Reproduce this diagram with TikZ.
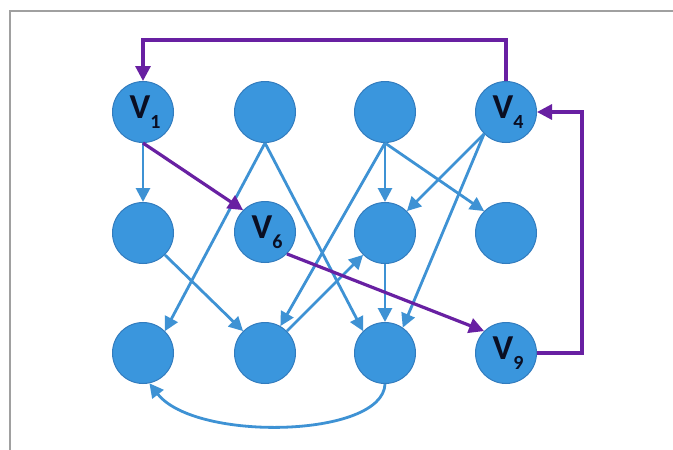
\documentclass[tikz,border=0pt]{standalone}
\usepackage{fontspec}
\setmainfont{Carlito}
\usetikzlibrary{arrows.meta}
\definecolor{nodefill}{RGB}{58,150,221}
\definecolor{nodeline}{RGB}{50,124,190}
\definecolor{edgeblue}{RGB}{62,146,212}
\definecolor{pathpurple}{RGB}{104,32,162}
\definecolor{labcol}{RGB}{10,14,34}
\definecolor{framegray}{RGB}{160,160,160}
\newcommand{\vlab}[1]{\textbf{V}\raisebox{-10pt}{\fontsize{20}{20}\selectfont\textbf{#1}}}
\tikzset{
  vert/.style={circle, minimum size=61pt, inner sep=0pt, fill=nodefill, draw=nodeline, line width=1pt,
    text=labcol, font=\fontsize{35}{35}\selectfont},
  be/.style={draw=edgeblue, line width=2.8pt, -{Triangle[length=14pt,width=14pt]}},
  pe/.style={draw=pathpurple, line width=3.2pt, -{Triangle[length=15pt,width=15pt]}},
  framel/.style={draw=framegray, line width=2pt}
}
\begin{document}
\begin{tikzpicture}[x=1pt,y=-1pt]
\useasboundingbox (0,0) rectangle (673,450);
\fill[white] (0,0) rectangle (673,450);
\coordinate (fa) at (10,452);
\coordinate (fb) at (10,11);
\coordinate (fc) at (673,11);
\draw[framel] (fa) -- (fb) -- (fc);

% row 1
\node[vert] (v1) at (143,112) {\hspace{4pt}\vlab{1}};
\node[vert] (c2) at (265,112) {};
\node[vert] (c3) at (385,112) {};
\node[vert] (v4) at (506,112) {\hspace{4pt}\vlab{4}};
% row 2
\node[vert] (r2c1) at (143,233) {};
\node[vert] (v6) at (265,232) {\hspace{4pt}\vlab{6}};
\node[vert] (r2c3) at (385,233) {};
\node[vert] (r2c4) at (506,233) {};
% row 3
\node[vert] (r3c1) at (143,353) {};
\node[vert] (r3c2) at (265,353) {};
\node[vert] (r3c3) at (385,353) {};
\node[vert] (v9) at (506,353) {\hspace{4pt}\vlab{9}};

% blue edges
\draw[be] (v1.south) -- (r2c1.north);
\draw[be] (c2.south) -- (r3c1.north east);
\draw[be] (c2.south) -- (r3c3.north west);
\draw[be] (c3.south) -- (r2c3.north);
\draw[be] (c3.south) -- (r2c4.north west);
\draw[be] (c3.south) -- (r3c2);
\draw[be] (v4.south west) -- (r2c3.north east);
\draw[be] (v4.south west) -- (r3c3.55);
\draw[be] (r2c1.south east) -- (r3c2.north west);
\draw[be] (r3c2.north east) -- (r2c3.south west);
\draw[be] (r2c3.south) -- (r3c3.north);
\draw[be] (r3c3.south) .. controls (383,438) and (195,442) .. (r3c1.-78);

% purple path
\coordinate (top) at (143,40);
\coordinate (rgt) at (582,353);
\draw[pe] (v1.south) -- (v6.north west);
\draw[pe] (v6.south east) -- (v9.north west);
\draw[pe] (v4.north) |- (top) -- (v1.north);
\draw[pe] (v9.east) -- (rgt) |- (v4.east);
\end{tikzpicture}
\end{document}
